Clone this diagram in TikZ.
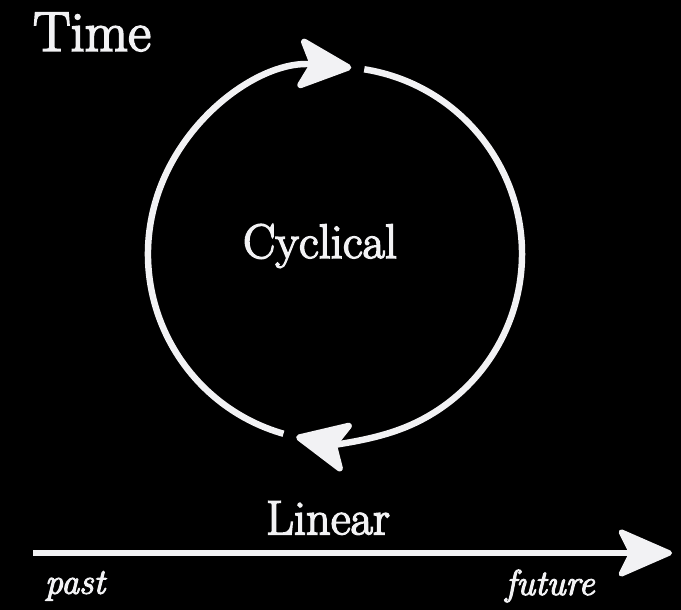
\documentclass[tikz,border=0pt]{standalone}
\usepackage{fontspec}
\usepackage{xcolor}
\usepackage{tikz}
\usetikzlibrary{positioning,arrows.meta}
\newfontfamily\heavyrm{Latin Modern Roman}[FakeBold=3]
\definecolor{SoftWhite}{HTML}{F2F2F4}
\tikzset{
  titletxt/.style={text=SoftWhite,font=\heavyrm\fontsize{40}{46}\selectfont,inner sep=0pt},
  bigtxt/.style={text=SoftWhite,font=\heavyrm\fontsize{34.5}{40}\selectfont,inner sep=0pt},
  endtxt/.style={text=SoftWhite,font=\heavyrm\fontsize{25.5}{30}\selectfont\itshape,inner sep=0pt},
  cyclearc/.style={draw=SoftWhite,line width=4.6pt,
    -{Stealth[length=15mm,width=14mm,inset=3.4mm,round]}},
  timeline/.style={draw=SoftWhite,line width=3.8pt,
    -{Stealth[length=15mm,width=13mm,inset=3.2mm,round]}},
}

\begin{document}
\begin{tikzpicture}
  \fill[black] (0,0) rectangle (17.025,15.25);
  \useasboundingbox (0,0) rectangle (17.025,15.25);
  % Labels
  \node[titletxt] (time) at (2.3,14.45) {Time};
  \node[bigtxt] (cyc) at (8.0,9.1) {Cyclical};
  \node[bigtxt] (lin) at (8.2,2.3) {Linear};
  \node[endtxt] (past) at (1.875,0.6) {past};
  \node[endtxt] (future) at (13.75,0.6) {future};
  % Circle arcs
  \coordinate (ctr) at (8.375,8.9);
  \draw[cyclearc] (ctr) ++(81:4.675) arc[start angle=81,end angle=-102,radius=4.675];
  \draw[cyclearc] (ctr) ++(-106:4.675) arc[start angle=-106,end angle=-275,radius=4.675];
  % Time line
  \coordinate (tstart) at (0.825,1.425);
  \coordinate (tend) at (16.8,1.425);
  \draw[timeline] (tstart) -- (tend);
\end{tikzpicture}
\end{document}
